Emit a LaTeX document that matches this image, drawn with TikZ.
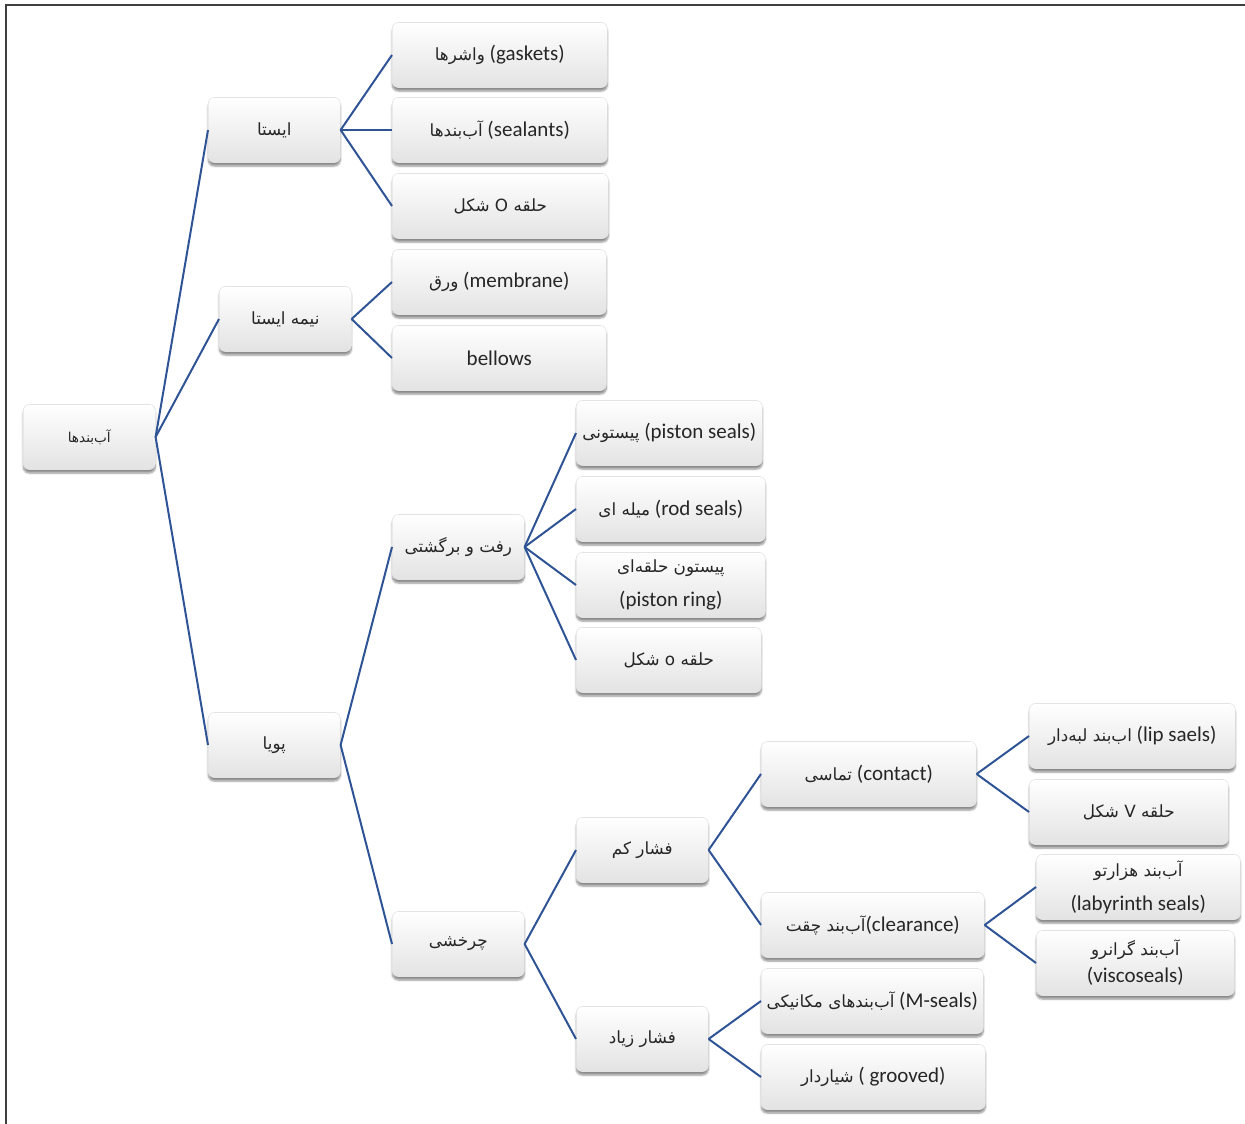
\documentclass[tikz,border=0pt]{standalone}
\usepackage{fontspec}
\setmainfont{Carlito}
\newfontfamily\fa[Script=Arabic,Scale=0.8]{DejaVu Sans}
\TeXXeTstate=1
\usetikzlibrary{shadows.blur}
\definecolor{linkblue}{RGB}{47,84,150}
\newcommand{\pers}[1]{{\fa\beginR#1\endR}}
\tikzstyle{sealbox} = [rounded corners=6pt,draw=gray!22,line width=0.6pt,
  top color=white,middle color=white,bottom color=gray!22,
  blur shadow={shadow xshift=0pt,shadow yshift=-3.5pt,shadow blur steps=6,shadow opacity=45},
  minimum height=65pt,inner sep=0pt,anchor=west,align=center,text=black!85,
  font=\fontsize{21}{34}\selectfont]
\tikzstyle{link} = [draw=linkblue,line width=2pt]

\begin{document}
\begin{tikzpicture}[x=1pt,y=-1pt]
  \useasboundingbox (0,0) rectangle (1245,1124);
  \draw[line width=1.5pt,black!75] (6,1124) -- (6,5) -- (1245,5);
  % first levels
  \node[sealbox,minimum width=132pt,font=\fontsize{17}{20}\selectfont] (seals) at (23,437) {\pers{آب‌بندها}};
  \node[sealbox,minimum width=132pt] (static) at (208,130) {\pers{ایستا}};
  \node[sealbox,minimum width=132pt] (semistatic) at (219,319) {\pers{نیمه ایستا}};
  \node[sealbox,minimum width=132pt] (dynamic) at (208,745) {\pers{پویا}};
  % static and semi-static
  \node[sealbox,minimum width=215pt] (gaskets) at (392,55) {\pers{واشرها} (gaskets)};
  \node[sealbox,minimum width=215pt] (sealants) at (392,130) {\pers{آب‌بندها} (sealants)};
  \node[sealbox,minimum width=216pt] (oring) at (392,206) {\pers{حلقه O شکل}};
  \node[sealbox,minimum width=214pt] (membrane) at (392,282) {\pers{ورق} (membrane)};
  \node[sealbox,minimum width=214pt] (bellows) at (392,358) {bellows};
  % reciprocating
  \node[sealbox,minimum width=132pt] (recip) at (392,547) {\pers{رفت و برگشتی}};
  \node[sealbox,minimum width=186pt] (piston) at (576,433) {\pers{پیستونی} (piston seals)};
  \node[sealbox,minimum width=189pt] (rod) at (576,509) {\pers{میله ای} (rod seals)};
  \node[sealbox,minimum width=189pt] (pring) at (576,585) {\pers{پیستون حلقه‌ای}\\(piston ring)};
  \node[sealbox,minimum width=185pt] (oring2) at (576,660) {\pers{حلقه o شکل}};
  % rotary
  \node[sealbox,minimum width=132pt] (rotary) at (392,944) {\pers{چرخشی}};
  \node[sealbox,minimum width=132pt] (lowp) at (576,850) {\pers{فشار کم}};
  \node[sealbox,minimum width=132pt] (highp) at (576,1039) {\pers{فشار زیاد}};
  \node[sealbox,minimum width=215pt] (contact) at (761,774) {\pers{تماسی} (contact)};
  \node[sealbox,minimum width=223pt] (clearance) at (761,925) {\pers{آب‌بند چقت}(clearance)};
  \node[sealbox,minimum width=222pt] (mseals) at (761,1001) {\pers{آب‌بندهای مکانیکی} (M-seals)};
  \node[sealbox,minimum width=224pt] (grooved) at (761,1077) {\pers{شیاردار} ( grooved)};
  \node[sealbox,minimum width=206pt] (lip) at (1029,736) {\pers{اب‌بند لبه‌دار} (lip saels)};
  \node[sealbox,minimum width=199pt] (vring) at (1029,812) {\pers{حلقه V شکل}};
  \node[sealbox,minimum width=204pt] (labyrinth) at (1036,887) {\pers{آب‌بند هزارتو}\\(labyrinth seals)};
  \node[sealbox,minimum width=198pt,font=\fontsize{21}{27}\selectfont] (visco) at (1036,963) {\pers{آب‌بند گرانرو}\\(viscoseals)};
  % connectors
  \foreach \from/\to in {seals/static,seals/semistatic,seals/dynamic,
      static/gaskets,static/sealants,static/oring,
      semistatic/membrane,semistatic/bellows,
      dynamic/recip,dynamic/rotary,
      recip/piston,recip/rod,recip/pring,recip/oring2,
      rotary/lowp,rotary/highp,
      lowp/contact,lowp/clearance,highp/mseals,highp/grooved,
      contact/lip,contact/vring,clearance/labyrinth,clearance/visco}
    \draw[link] (\from.east) -- (\to.west);
\end{tikzpicture}
\end{document}
